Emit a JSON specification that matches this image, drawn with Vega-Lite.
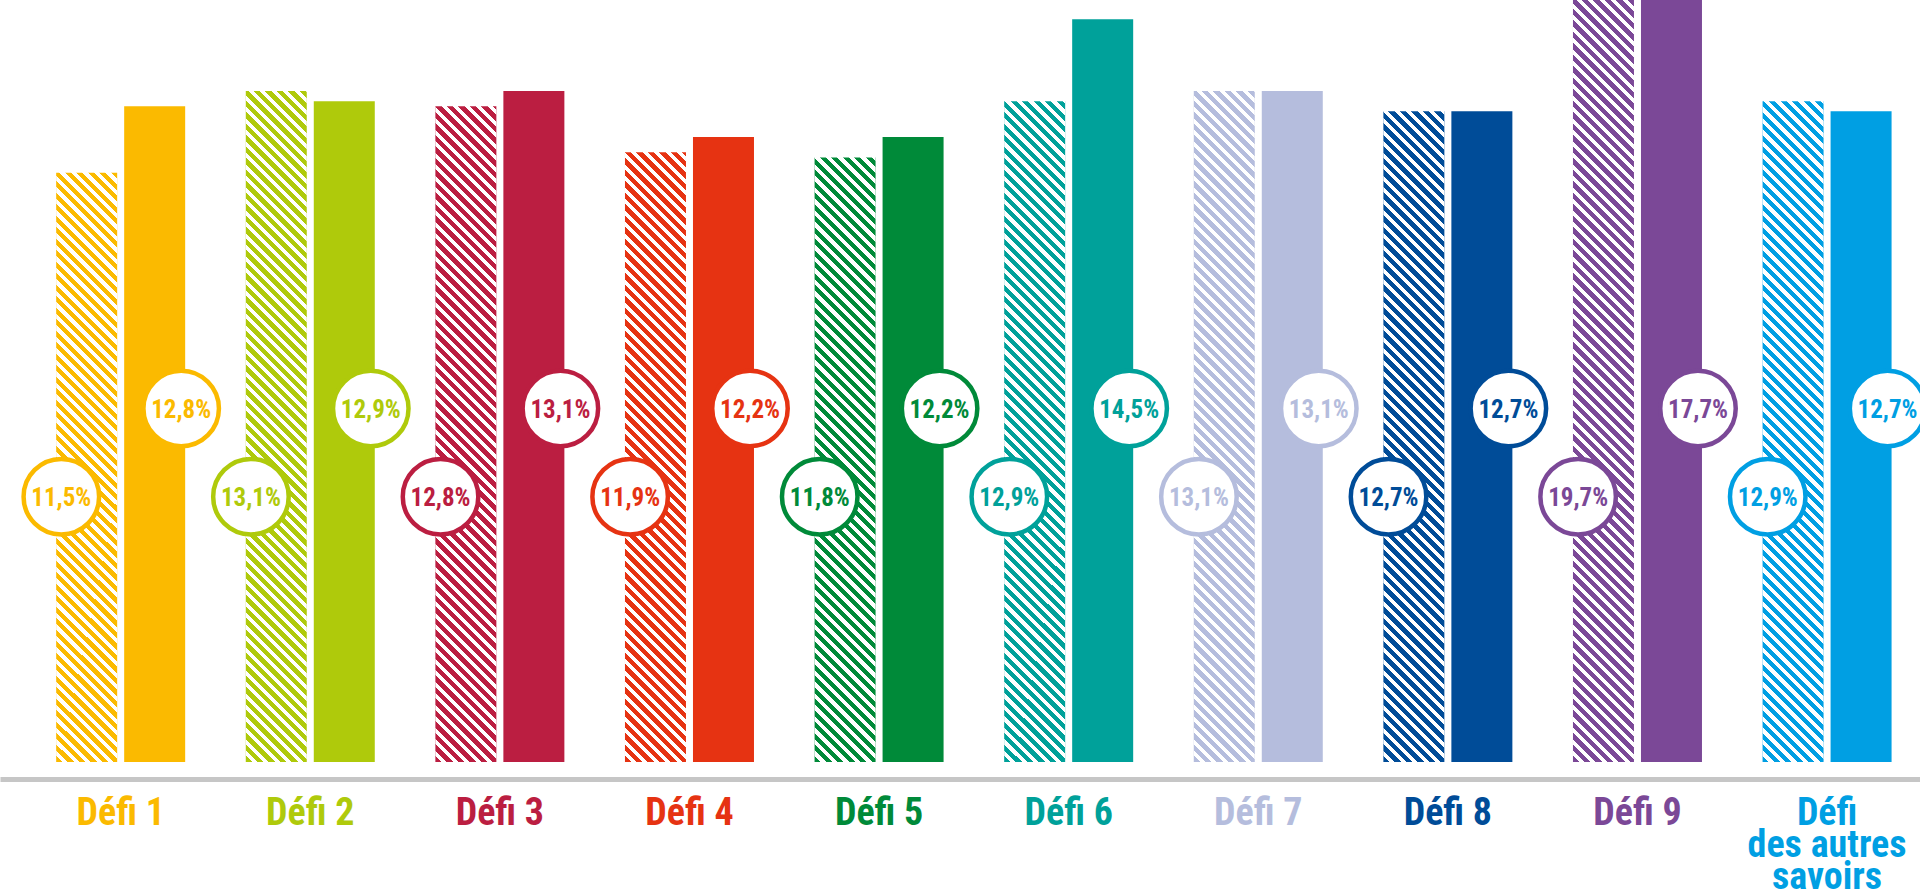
{
  "$schema": "https://vega.github.io/schema/vega-lite/v6.json",
  "width": 1920,
  "height": 762,
  "autosize": {"type": "none"},
  "padding": {"left": 0, "top": 0, "right": 0, "bottom": 134},
  "background": "#ffffff",
  "config": {
    "view": {"stroke": null},
    "locale": {"number": {"decimal": ",", "thousands": " ", "grouping": [3], "currency": ["", " €"]}}
  },
  "data": {
    "values": [
      {"defi": "Défi 1", "serie": "A", "value": 0.115},
      {"defi": "Défi 1", "serie": "B", "value": 0.128},
      {"defi": "Défi 2", "serie": "A", "value": 0.131},
      {"defi": "Défi 2", "serie": "B", "value": 0.129},
      {"defi": "Défi 3", "serie": "A", "value": 0.128},
      {"defi": "Défi 3", "serie": "B", "value": 0.131},
      {"defi": "Défi 4", "serie": "A", "value": 0.119},
      {"defi": "Défi 4", "serie": "B", "value": 0.122},
      {"defi": "Défi 5", "serie": "A", "value": 0.118},
      {"defi": "Défi 5", "serie": "B", "value": 0.122},
      {"defi": "Défi 6", "serie": "A", "value": 0.129},
      {"defi": "Défi 6", "serie": "B", "value": 0.145},
      {"defi": "Défi 7", "serie": "A", "value": 0.131},
      {"defi": "Défi 7", "serie": "B", "value": 0.131},
      {"defi": "Défi 8", "serie": "A", "value": 0.127},
      {"defi": "Défi 8", "serie": "B", "value": 0.127},
      {"defi": "Défi 9", "serie": "A", "value": 0.197},
      {"defi": "Défi 9", "serie": "B", "value": 0.177},
      {"defi": "Défi des autres savoirs", "serie": "A", "value": 0.129},
      {"defi": "Défi des autres savoirs", "serie": "B", "value": 0.127}
    ]
  },
  "layer": [
    {
      "mark": {"type": "bar"},
      "encoding": {
        "x": {
          "field": "defi", "type": "nominal",
          "scale": {
            "domain": ["Défi 1", "Défi 2", "Défi 3", "Défi 4", "Défi 5", "Défi 6", "Défi 7", "Défi 8", "Défi 9", "Défi des autres savoirs"],
            "paddingInner": 0.3196, "paddingOuter": 0.2231, "align": 0.664
          },
          "axis": {
            "title": null, "orient": "bottom", "offset": 17,
            "domain": true, "domainColor": "#c6c6c6", "domainWidth": 5,
            "ticks": false, "tickSize": 0, "grid": false,
            "labelAngle": 0, "labelAlign": "center", "labelBaseline": "alphabetic",
            "labelPadding": 45, "labelFont": "Roboto Condensed, Roboto, sans-serif",
            "labelFontSize": 38, "labelFontWeight": "bold", "labelLineHeight": 32,
            "labelOverlap": false, "labelLimit": 400, "labelFlush": false,
            "labelExpr": "datum.value == 'Défi des autres savoirs' ? ['Défi', 'des autres', 'savoirs'] : datum.label",
            "labelColor": {
              "condition": [
                {"test": "datum.value == 'Défi 1'", "value": "#fbba00"},
                {"test": "datum.value == 'Défi 2'", "value": "#afca0b"},
                {"test": "datum.value == 'Défi 3'", "value": "#bb1e41"},
                {"test": "datum.value == 'Défi 4'", "value": "#e63312"},
                {"test": "datum.value == 'Défi 5'", "value": "#008a39"},
                {"test": "datum.value == 'Défi 6'", "value": "#00a19a"},
                {"test": "datum.value == 'Défi 7'", "value": "#b5bddd"},
                {"test": "datum.value == 'Défi 8'", "value": "#004c98"},
                {"test": "datum.value == 'Défi 9'", "value": "#7b4897"}
              ],
              "value": "#009fe3"
            }
          }
        },
        "xOffset": {"field": "serie", "type": "nominal", "scale": {"domain": ["A", "B"], "paddingInner": 0.103, "paddingOuter": 0}},
        "y": {"field": "value", "type": "quantitative", "scale": {"domain": [0, 0.14874], "clamp": true, "nice": false, "zero": true}, "axis": null},
        "color": {
          "field": "defi", "type": "nominal", "legend": null,
          "scale": {
            "domain": ["Défi 1", "Défi 2", "Défi 3", "Défi 4", "Défi 5", "Défi 6", "Défi 7", "Défi 8", "Défi 9", "Défi des autres savoirs"],
            "range": ["#fbba00", "#afca0b", "#bb1e41", "#e63312", "#008a39", "#00a19a", "#b5bddd", "#004c98", "#7b4897", "#009fe3"]
          }
        }
      }
    },
    {
      "transform": [{"filter": "datum.serie == 'A'"}],
      "mark": {
        "type": "bar",
        "fill": {
          "gradient": "linear", "x1": 0, "y1": 1, "x2": 0.12, "y2": -0.4995,
          "stops": [
            {"offset": 0, "color": "rgba(255,255,255,0)"}, {"offset": 0.0055, "color": "rgba(255,255,255,0)"}, {"offset": 0.0055, "color": "#fff"}, {"offset": 0.01, "color": "#fff"},
            {"offset": 0.01, "color": "rgba(255,255,255,0)"}, {"offset": 0.0155, "color": "rgba(255,255,255,0)"}, {"offset": 0.0155, "color": "#fff"}, {"offset": 0.02, "color": "#fff"},
            {"offset": 0.02, "color": "rgba(255,255,255,0)"}, {"offset": 0.0255, "color": "rgba(255,255,255,0)"}, {"offset": 0.0255, "color": "#fff"}, {"offset": 0.03, "color": "#fff"},
            {"offset": 0.03, "color": "rgba(255,255,255,0)"}, {"offset": 0.0355, "color": "rgba(255,255,255,0)"}, {"offset": 0.0355, "color": "#fff"}, {"offset": 0.04, "color": "#fff"},
            {"offset": 0.04, "color": "rgba(255,255,255,0)"}, {"offset": 0.0455, "color": "rgba(255,255,255,0)"}, {"offset": 0.0455, "color": "#fff"}, {"offset": 0.05, "color": "#fff"},
            {"offset": 0.05, "color": "rgba(255,255,255,0)"}, {"offset": 0.0555, "color": "rgba(255,255,255,0)"}, {"offset": 0.0555, "color": "#fff"}, {"offset": 0.06, "color": "#fff"},
            {"offset": 0.06, "color": "rgba(255,255,255,0)"}, {"offset": 0.0655, "color": "rgba(255,255,255,0)"}, {"offset": 0.0655, "color": "#fff"}, {"offset": 0.07, "color": "#fff"},
            {"offset": 0.07, "color": "rgba(255,255,255,0)"}, {"offset": 0.0755, "color": "rgba(255,255,255,0)"}, {"offset": 0.0755, "color": "#fff"}, {"offset": 0.08, "color": "#fff"},
            {"offset": 0.08, "color": "rgba(255,255,255,0)"}, {"offset": 0.0855, "color": "rgba(255,255,255,0)"}, {"offset": 0.0855, "color": "#fff"}, {"offset": 0.09, "color": "#fff"},
            {"offset": 0.09, "color": "rgba(255,255,255,0)"}, {"offset": 0.0955, "color": "rgba(255,255,255,0)"}, {"offset": 0.0955, "color": "#fff"}, {"offset": 0.10, "color": "#fff"},
            {"offset": 0.10, "color": "rgba(255,255,255,0)"}, {"offset": 0.1055, "color": "rgba(255,255,255,0)"}, {"offset": 0.1055, "color": "#fff"}, {"offset": 0.11, "color": "#fff"},
            {"offset": 0.11, "color": "rgba(255,255,255,0)"}, {"offset": 0.1155, "color": "rgba(255,255,255,0)"}, {"offset": 0.1155, "color": "#fff"}, {"offset": 0.12, "color": "#fff"},
            {"offset": 0.12, "color": "rgba(255,255,255,0)"}, {"offset": 0.1255, "color": "rgba(255,255,255,0)"}, {"offset": 0.1255, "color": "#fff"}, {"offset": 0.13, "color": "#fff"},
            {"offset": 0.13, "color": "rgba(255,255,255,0)"}, {"offset": 0.1355, "color": "rgba(255,255,255,0)"}, {"offset": 0.1355, "color": "#fff"}, {"offset": 0.14, "color": "#fff"},
            {"offset": 0.14, "color": "rgba(255,255,255,0)"}, {"offset": 0.1455, "color": "rgba(255,255,255,0)"}, {"offset": 0.1455, "color": "#fff"}, {"offset": 0.15, "color": "#fff"},
            {"offset": 0.15, "color": "rgba(255,255,255,0)"}, {"offset": 0.1555, "color": "rgba(255,255,255,0)"}, {"offset": 0.1555, "color": "#fff"}, {"offset": 0.16, "color": "#fff"},
            {"offset": 0.16, "color": "rgba(255,255,255,0)"}, {"offset": 0.1655, "color": "rgba(255,255,255,0)"}, {"offset": 0.1655, "color": "#fff"}, {"offset": 0.17, "color": "#fff"},
            {"offset": 0.17, "color": "rgba(255,255,255,0)"}, {"offset": 0.1755, "color": "rgba(255,255,255,0)"}, {"offset": 0.1755, "color": "#fff"}, {"offset": 0.18, "color": "#fff"},
            {"offset": 0.18, "color": "rgba(255,255,255,0)"}, {"offset": 0.1855, "color": "rgba(255,255,255,0)"}, {"offset": 0.1855, "color": "#fff"}, {"offset": 0.19, "color": "#fff"},
            {"offset": 0.19, "color": "rgba(255,255,255,0)"}, {"offset": 0.1955, "color": "rgba(255,255,255,0)"}, {"offset": 0.1955, "color": "#fff"}, {"offset": 0.20, "color": "#fff"},
            {"offset": 0.20, "color": "rgba(255,255,255,0)"}, {"offset": 0.2055, "color": "rgba(255,255,255,0)"}, {"offset": 0.2055, "color": "#fff"}, {"offset": 0.21, "color": "#fff"},
            {"offset": 0.21, "color": "rgba(255,255,255,0)"}, {"offset": 0.2155, "color": "rgba(255,255,255,0)"}, {"offset": 0.2155, "color": "#fff"}, {"offset": 0.22, "color": "#fff"},
            {"offset": 0.22, "color": "rgba(255,255,255,0)"}, {"offset": 0.2255, "color": "rgba(255,255,255,0)"}, {"offset": 0.2255, "color": "#fff"}, {"offset": 0.23, "color": "#fff"},
            {"offset": 0.23, "color": "rgba(255,255,255,0)"}, {"offset": 0.2355, "color": "rgba(255,255,255,0)"}, {"offset": 0.2355, "color": "#fff"}, {"offset": 0.24, "color": "#fff"},
            {"offset": 0.24, "color": "rgba(255,255,255,0)"}, {"offset": 0.2455, "color": "rgba(255,255,255,0)"}, {"offset": 0.2455, "color": "#fff"}, {"offset": 0.25, "color": "#fff"},
            {"offset": 0.25, "color": "rgba(255,255,255,0)"}, {"offset": 0.2555, "color": "rgba(255,255,255,0)"}, {"offset": 0.2555, "color": "#fff"}, {"offset": 0.26, "color": "#fff"},
            {"offset": 0.26, "color": "rgba(255,255,255,0)"}, {"offset": 0.2655, "color": "rgba(255,255,255,0)"}, {"offset": 0.2655, "color": "#fff"}, {"offset": 0.27, "color": "#fff"},
            {"offset": 0.27, "color": "rgba(255,255,255,0)"}, {"offset": 0.2755, "color": "rgba(255,255,255,0)"}, {"offset": 0.2755, "color": "#fff"}, {"offset": 0.28, "color": "#fff"},
            {"offset": 0.28, "color": "rgba(255,255,255,0)"}, {"offset": 0.2855, "color": "rgba(255,255,255,0)"}, {"offset": 0.2855, "color": "#fff"}, {"offset": 0.29, "color": "#fff"},
            {"offset": 0.29, "color": "rgba(255,255,255,0)"}, {"offset": 0.2955, "color": "rgba(255,255,255,0)"}, {"offset": 0.2955, "color": "#fff"}, {"offset": 0.30, "color": "#fff"},
            {"offset": 0.30, "color": "rgba(255,255,255,0)"}, {"offset": 0.3055, "color": "rgba(255,255,255,0)"}, {"offset": 0.3055, "color": "#fff"}, {"offset": 0.31, "color": "#fff"},
            {"offset": 0.31, "color": "rgba(255,255,255,0)"}, {"offset": 0.3155, "color": "rgba(255,255,255,0)"}, {"offset": 0.3155, "color": "#fff"}, {"offset": 0.32, "color": "#fff"},
            {"offset": 0.32, "color": "rgba(255,255,255,0)"}, {"offset": 0.3255, "color": "rgba(255,255,255,0)"}, {"offset": 0.3255, "color": "#fff"}, {"offset": 0.33, "color": "#fff"},
            {"offset": 0.33, "color": "rgba(255,255,255,0)"}, {"offset": 0.3355, "color": "rgba(255,255,255,0)"}, {"offset": 0.3355, "color": "#fff"}, {"offset": 0.34, "color": "#fff"},
            {"offset": 0.34, "color": "rgba(255,255,255,0)"}, {"offset": 0.3455, "color": "rgba(255,255,255,0)"}, {"offset": 0.3455, "color": "#fff"}, {"offset": 0.35, "color": "#fff"},
            {"offset": 0.35, "color": "rgba(255,255,255,0)"}, {"offset": 0.3555, "color": "rgba(255,255,255,0)"}, {"offset": 0.3555, "color": "#fff"}, {"offset": 0.36, "color": "#fff"},
            {"offset": 0.36, "color": "rgba(255,255,255,0)"}, {"offset": 0.3655, "color": "rgba(255,255,255,0)"}, {"offset": 0.3655, "color": "#fff"}, {"offset": 0.37, "color": "#fff"},
            {"offset": 0.37, "color": "rgba(255,255,255,0)"}, {"offset": 0.3755, "color": "rgba(255,255,255,0)"}, {"offset": 0.3755, "color": "#fff"}, {"offset": 0.38, "color": "#fff"},
            {"offset": 0.38, "color": "rgba(255,255,255,0)"}, {"offset": 0.3855, "color": "rgba(255,255,255,0)"}, {"offset": 0.3855, "color": "#fff"}, {"offset": 0.39, "color": "#fff"},
            {"offset": 0.39, "color": "rgba(255,255,255,0)"}, {"offset": 0.3955, "color": "rgba(255,255,255,0)"}, {"offset": 0.3955, "color": "#fff"}, {"offset": 0.40, "color": "#fff"},
            {"offset": 0.40, "color": "rgba(255,255,255,0)"}, {"offset": 0.4055, "color": "rgba(255,255,255,0)"}, {"offset": 0.4055, "color": "#fff"}, {"offset": 0.41, "color": "#fff"},
            {"offset": 0.41, "color": "rgba(255,255,255,0)"}, {"offset": 0.4155, "color": "rgba(255,255,255,0)"}, {"offset": 0.4155, "color": "#fff"}, {"offset": 0.42, "color": "#fff"},
            {"offset": 0.42, "color": "rgba(255,255,255,0)"}, {"offset": 0.4255, "color": "rgba(255,255,255,0)"}, {"offset": 0.4255, "color": "#fff"}, {"offset": 0.43, "color": "#fff"},
            {"offset": 0.43, "color": "rgba(255,255,255,0)"}, {"offset": 0.4355, "color": "rgba(255,255,255,0)"}, {"offset": 0.4355, "color": "#fff"}, {"offset": 0.44, "color": "#fff"},
            {"offset": 0.44, "color": "rgba(255,255,255,0)"}, {"offset": 0.4455, "color": "rgba(255,255,255,0)"}, {"offset": 0.4455, "color": "#fff"}, {"offset": 0.45, "color": "#fff"},
            {"offset": 0.45, "color": "rgba(255,255,255,0)"}, {"offset": 0.4555, "color": "rgba(255,255,255,0)"}, {"offset": 0.4555, "color": "#fff"}, {"offset": 0.46, "color": "#fff"},
            {"offset": 0.46, "color": "rgba(255,255,255,0)"}, {"offset": 0.4655, "color": "rgba(255,255,255,0)"}, {"offset": 0.4655, "color": "#fff"}, {"offset": 0.47, "color": "#fff"},
            {"offset": 0.47, "color": "rgba(255,255,255,0)"}, {"offset": 0.4755, "color": "rgba(255,255,255,0)"}, {"offset": 0.4755, "color": "#fff"}, {"offset": 0.48, "color": "#fff"},
            {"offset": 0.48, "color": "rgba(255,255,255,0)"}, {"offset": 0.4855, "color": "rgba(255,255,255,0)"}, {"offset": 0.4855, "color": "#fff"}, {"offset": 0.49, "color": "#fff"},
            {"offset": 0.49, "color": "rgba(255,255,255,0)"}, {"offset": 0.4955, "color": "rgba(255,255,255,0)"}, {"offset": 0.4955, "color": "#fff"}, {"offset": 0.50, "color": "#fff"},
            {"offset": 0.50, "color": "rgba(255,255,255,0)"}, {"offset": 0.5055, "color": "rgba(255,255,255,0)"}, {"offset": 0.5055, "color": "#fff"}, {"offset": 0.51, "color": "#fff"},
            {"offset": 0.51, "color": "rgba(255,255,255,0)"}, {"offset": 0.5155, "color": "rgba(255,255,255,0)"}, {"offset": 0.5155, "color": "#fff"}, {"offset": 0.52, "color": "#fff"},
            {"offset": 0.52, "color": "rgba(255,255,255,0)"}, {"offset": 0.5255, "color": "rgba(255,255,255,0)"}, {"offset": 0.5255, "color": "#fff"}, {"offset": 0.53, "color": "#fff"},
            {"offset": 0.53, "color": "rgba(255,255,255,0)"}, {"offset": 0.5355, "color": "rgba(255,255,255,0)"}, {"offset": 0.5355, "color": "#fff"}, {"offset": 0.54, "color": "#fff"},
            {"offset": 0.54, "color": "rgba(255,255,255,0)"}, {"offset": 0.5455, "color": "rgba(255,255,255,0)"}, {"offset": 0.5455, "color": "#fff"}, {"offset": 0.55, "color": "#fff"},
            {"offset": 0.55, "color": "rgba(255,255,255,0)"}, {"offset": 0.5555, "color": "rgba(255,255,255,0)"}, {"offset": 0.5555, "color": "#fff"}, {"offset": 0.56, "color": "#fff"},
            {"offset": 0.56, "color": "rgba(255,255,255,0)"}, {"offset": 0.5655, "color": "rgba(255,255,255,0)"}, {"offset": 0.5655, "color": "#fff"}, {"offset": 0.57, "color": "#fff"},
            {"offset": 0.57, "color": "rgba(255,255,255,0)"}, {"offset": 0.5755, "color": "rgba(255,255,255,0)"}, {"offset": 0.5755, "color": "#fff"}, {"offset": 0.58, "color": "#fff"},
            {"offset": 0.58, "color": "rgba(255,255,255,0)"}, {"offset": 0.5855, "color": "rgba(255,255,255,0)"}, {"offset": 0.5855, "color": "#fff"}, {"offset": 0.59, "color": "#fff"},
            {"offset": 0.59, "color": "rgba(255,255,255,0)"}, {"offset": 0.5955, "color": "rgba(255,255,255,0)"}, {"offset": 0.5955, "color": "#fff"}, {"offset": 0.60, "color": "#fff"},
            {"offset": 0.60, "color": "rgba(255,255,255,0)"}, {"offset": 0.6055, "color": "rgba(255,255,255,0)"}, {"offset": 0.6055, "color": "#fff"}, {"offset": 0.61, "color": "#fff"},
            {"offset": 0.61, "color": "rgba(255,255,255,0)"}, {"offset": 0.6155, "color": "rgba(255,255,255,0)"}, {"offset": 0.6155, "color": "#fff"}, {"offset": 0.62, "color": "#fff"},
            {"offset": 0.62, "color": "rgba(255,255,255,0)"}, {"offset": 0.6255, "color": "rgba(255,255,255,0)"}, {"offset": 0.6255, "color": "#fff"}, {"offset": 0.63, "color": "#fff"},
            {"offset": 0.63, "color": "rgba(255,255,255,0)"}, {"offset": 0.6355, "color": "rgba(255,255,255,0)"}, {"offset": 0.6355, "color": "#fff"}, {"offset": 0.64, "color": "#fff"},
            {"offset": 0.64, "color": "rgba(255,255,255,0)"}, {"offset": 0.6455, "color": "rgba(255,255,255,0)"}, {"offset": 0.6455, "color": "#fff"}, {"offset": 0.65, "color": "#fff"},
            {"offset": 0.65, "color": "rgba(255,255,255,0)"}, {"offset": 0.6555, "color": "rgba(255,255,255,0)"}, {"offset": 0.6555, "color": "#fff"}, {"offset": 0.66, "color": "#fff"},
            {"offset": 0.66, "color": "rgba(255,255,255,0)"}, {"offset": 0.6655, "color": "rgba(255,255,255,0)"}, {"offset": 0.6655, "color": "#fff"}, {"offset": 0.67, "color": "#fff"},
            {"offset": 0.67, "color": "rgba(255,255,255,0)"}, {"offset": 0.6755, "color": "rgba(255,255,255,0)"}, {"offset": 0.6755, "color": "#fff"}, {"offset": 0.68, "color": "#fff"},
            {"offset": 0.68, "color": "rgba(255,255,255,0)"}, {"offset": 0.6855, "color": "rgba(255,255,255,0)"}, {"offset": 0.6855, "color": "#fff"}, {"offset": 0.69, "color": "#fff"},
            {"offset": 0.69, "color": "rgba(255,255,255,0)"}, {"offset": 0.6955, "color": "rgba(255,255,255,0)"}, {"offset": 0.6955, "color": "#fff"}, {"offset": 0.70, "color": "#fff"},
            {"offset": 0.70, "color": "rgba(255,255,255,0)"}, {"offset": 0.7055, "color": "rgba(255,255,255,0)"}, {"offset": 0.7055, "color": "#fff"}, {"offset": 0.71, "color": "#fff"},
            {"offset": 0.71, "color": "rgba(255,255,255,0)"}, {"offset": 0.7155, "color": "rgba(255,255,255,0)"}, {"offset": 0.7155, "color": "#fff"}, {"offset": 0.72, "color": "#fff"}
          ]
        }
      },
      "encoding": {
        "x": {"field": "defi", "type": "nominal"},
        "xOffset": {"field": "serie", "type": "nominal"},
        "y": {"datum": 0.14874, "type": "quantitative"},
        "y2": {"datum": 0}
      }
    },
    {
      "transform": [{"filter": "datum.serie == 'A'"}],
      "mark": {"type": "point", "shape": "circle", "size": 5700, "strokeWidth": 4.5, "fill": "#ffffff", "fillOpacity": 1, "opacity": 1, "strokeOpacity": 1},
      "encoding": {
        "x": {"field": "defi", "type": "nominal", "bandPosition": 0.04},
        "y": {"datum": 0.0518, "type": "quantitative"},
        "stroke": {
          "field": "defi", "type": "nominal", "legend": null,
          "scale": {
            "domain": ["Défi 1", "Défi 2", "Défi 3", "Défi 4", "Défi 5", "Défi 6", "Défi 7", "Défi 8", "Défi 9", "Défi des autres savoirs"],
            "range": ["#fbba00", "#afca0b", "#bb1e41", "#e63312", "#008a39", "#00a19a", "#b5bddd", "#004c98", "#7b4897", "#009fe3"]
          }
        }
      }
    },
    {
      "transform": [{"filter": "datum.serie == 'B'"}],
      "mark": {"type": "point", "shape": "circle", "size": 5700, "strokeWidth": 4.5, "fill": "#ffffff", "fillOpacity": 1, "opacity": 1, "strokeOpacity": 1},
      "encoding": {
        "x": {"field": "defi", "type": "nominal", "bandPosition": 0.969},
        "y": {"datum": 0.069, "type": "quantitative"},
        "stroke": {"field": "defi", "type": "nominal", "legend": null}
      }
    },
    {
      "transform": [{"filter": "datum.serie == 'A'"}],
      "mark": {"type": "text", "font": "Roboto Condensed, Roboto, sans-serif", "fontSize": 25, "fontWeight": "bold", "align": "center", "baseline": "alphabetic", "dy": 9},
      "encoding": {
        "x": {"field": "defi", "type": "nominal", "bandPosition": 0.04},
        "y": {"datum": 0.0518, "type": "quantitative"},
        "text": {"field": "value", "type": "quantitative", "format": ".1%"},
        "color": {"field": "defi", "type": "nominal", "legend": null}
      }
    },
    {
      "transform": [{"filter": "datum.serie == 'B'"}],
      "mark": {"type": "text", "font": "Roboto Condensed, Roboto, sans-serif", "fontSize": 25, "fontWeight": "bold", "align": "center", "baseline": "alphabetic", "dy": 9},
      "encoding": {
        "x": {"field": "defi", "type": "nominal", "bandPosition": 0.969},
        "y": {"datum": 0.069, "type": "quantitative"},
        "text": {"field": "value", "type": "quantitative", "format": ".1%"},
        "color": {"field": "defi", "type": "nominal", "legend": null}
      }
    }
  ]
}
